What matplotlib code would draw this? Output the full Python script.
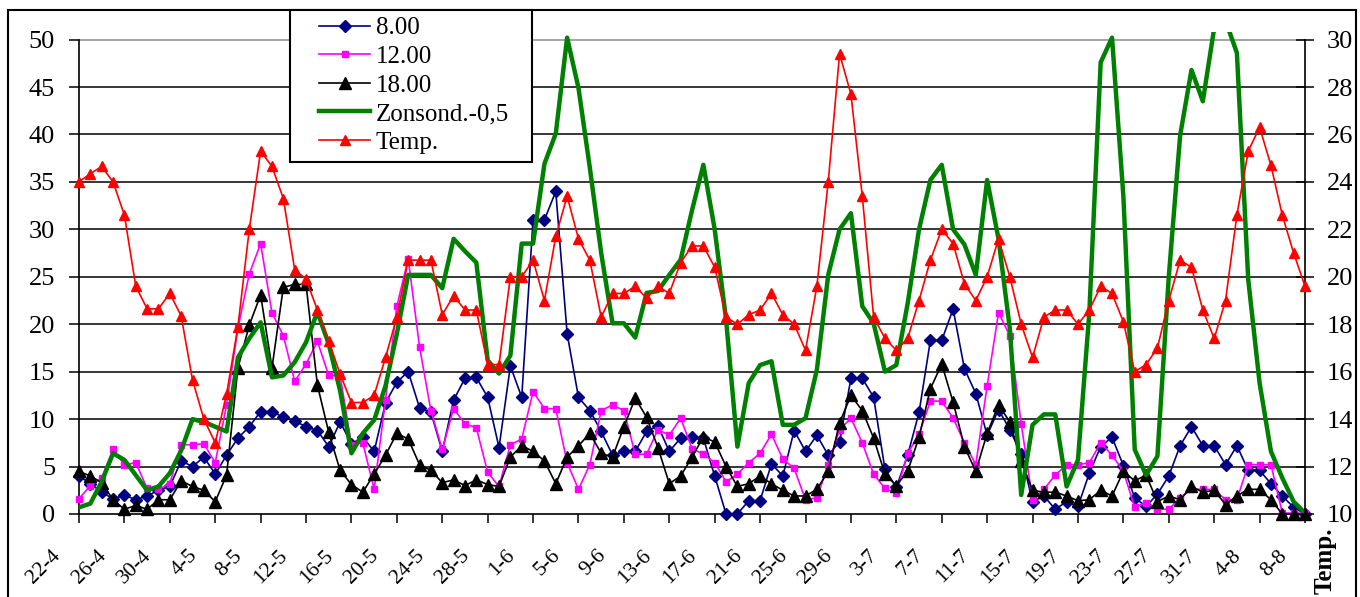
import numpy as np
import matplotlib
matplotlib.use('Agg')
import matplotlib.pyplot as plt
from matplotlib.patches import Rectangle
from matplotlib.transforms import ScaledTranslation

W, H, DPI = 1360, 597, 100

tick_labels = ['22-4', '26-4', '30-4', '4-5', '8-5', '12-5', '16-5', '20-5', '24-5',
               '28-5', '1-6', '5-6', '9-6', '13-6', '17-6', '21-6', '25-6', '29-6',
               '3-7', '7-7', '11-7', '15-7', '19-7', '23-7', '27-7', '31-7', '4-8', '8-8']

s800 = [4.0, 3.2, 2.3, 1.6, 2.0, 1.5, 1.9, 2.5, 2.9, 5.6,
        5.0, 6.0, 4.2, 6.2, 8.0, 9.2, 10.8, 10.8, 10.2, 9.8,
        9.2, 8.8, 7.1, 9.7, 7.4, 8.1, 6.6, 11.7, 13.9, 15.0,
        11.2, 10.7, 6.6, 12.0, 14.3, 14.4, 12.3, 7.0, 15.6, 12.3,
        31.0, 31.0, 34.0, 19.0, 12.3, 10.9, 8.7, 6.2, 6.6, 6.6,
        8.7, 9.3, 6.6, 8.0, 8.1, 8.0, 4.0, 0.0, 0.0, 1.4,
        1.4, 5.3, 4.0, 8.8, 6.6, 8.3, 6.2, 7.6, 14.3, 14.3,
        12.3, 4.7, 2.8, 6.2, 10.7, 18.3, 18.3, 21.6, 15.3, 12.7,
        8.3, 11.0, 8.9, 6.3, 1.3, 1.9, 0.5, 1.3, 0.8, 4.3,
        7.1, 8.1, 5.1, 1.7, 0.8, 2.1, 4.0, 7.2, 9.2, 7.2,
        7.2, 5.2, 7.2, 4.6, 4.6, 3.2, 1.9, 0.7, 0.0]

s1200 = [1.6, 3.0, 3.8, 6.8, 5.2, 5.4, 2.7, 2.6, 3.2, 7.3,
         7.3, 7.4, 5.4, 11.5, 19.6, 25.3, 28.5, 21.2, 18.8, 14.0,
         15.8, 18.2, 14.6, 14.6, 7.3, 7.5, 2.6, 12.0, 21.9, 26.9,
         17.6, 10.9, 6.8, 11.1, 9.5, 9.1, 4.4, 2.9, 7.3, 7.9,
         12.9, 11.1, 11.1, 5.4, 2.6, 5.2, 10.9, 11.5, 10.9, 6.3,
         6.3, 8.9, 8.3, 10.1, 6.9, 6.3, 5.4, 3.4, 4.2, 5.4,
         6.4, 8.4, 5.8, 4.8, 1.5, 1.7, 5.2, 8.9, 10.1, 7.5,
         4.2, 2.7, 2.2, 6.4, 8.4, 11.9, 11.9, 10.1, 7.5, 5.2,
         13.5, 21.2, 18.8, 9.5, 1.5, 2.6, 4.1, 5.2, 5.2, 5.4,
         7.5, 6.2, 4.5, 0.7, 1.2, 0.5, 0.5, 1.7, 2.6, 2.6,
         2.6, 1.5, 1.5, 5.2, 5.2, 5.2, 0.1, 0.1, 0.1]

s1800 = [4.5, 4.0, 3.3, 1.5, 0.5, 0.9, 0.5, 1.5, 1.5, 3.5,
         2.9, 2.5, 1.3, 4.1, 15.4, 19.9, 23.1, 15.4, 23.9, 24.2,
         24.2, 13.6, 8.6, 4.6, 3.1, 2.3, 4.2, 6.2, 8.5, 7.9,
         5.2, 4.6, 3.3, 3.6, 3.0, 3.6, 3.1, 2.9, 6.0, 7.2,
         6.6, 5.6, 3.2, 6.0, 7.2, 8.5, 6.4, 6.0, 9.2, 12.2,
         10.2, 7.0, 3.2, 4.0, 6.0, 8.1, 7.6, 5.0, 2.9, 3.2,
         4.0, 3.2, 2.5, 1.9, 1.9, 2.6, 4.5, 9.6, 12.5, 10.9,
         8.0, 4.2, 3.0, 4.5, 8.1, 13.2, 15.8, 11.8, 7.1, 4.5,
         8.5, 11.5, 9.7, 5.6, 2.5, 2.3, 2.3, 1.9, 1.4, 1.5,
         2.5, 1.9, 4.5, 3.5, 4.1, 1.3, 1.9, 1.5, 2.9, 2.3,
         2.5, 1.0, 1.9, 2.6, 2.6, 1.5, 0.0, 0.0, 0.0]

zonsond = [0.7, 1.1, 3.4, 6.4, 5.7, 4.1, 2.5, 2.9, 4.3, 6.7,
           10.0, 9.7, 9.2, 8.7, 16.5, 18.5, 20.2, 14.4, 14.6, 16.0,
           18.1, 21.3, 17.9, 13.0, 6.4, 8.5, 9.9, 13.5, 19.0, 25.2,
           25.2, 25.2, 23.8, 29.0, 27.7, 26.5, 16.2, 14.8, 16.7, 28.5,
           28.5, 36.9, 40.1, 50.2, 44.9, 36.5, 27.5, 20.1, 20.1, 18.6,
           23.3, 23.5, 25.2, 26.8, 32.0, 36.8, 30.0, 20.5, 7.1, 13.8,
           15.7, 16.1, 9.4, 9.4, 10.1, 15.2, 25.2, 30.0, 31.7, 21.9,
           20.1, 15.0, 15.7, 22.2, 30.0, 35.2, 36.8, 30.0, 28.4, 25.2,
           35.2, 29.0, 19.5, 2.0, 9.4, 10.5, 10.5, 2.9, 5.7, 21.2,
           47.6, 50.2, 33.5, 6.8, 4.1, 6.1, 25.0, 39.9, 46.8, 43.5,
           51.2, 52.0, 48.6, 24.7, 13.8, 6.6, 3.8, 1.3, 0.1]

temp = [24.0, 24.35, 24.65, 24.0, 22.6, 19.6, 18.65, 18.65, 19.3, 18.35,
        15.65, 14.0, 13.0, 15.05, 17.9, 22.0, 25.3, 24.65, 23.3, 20.3,
        19.9, 18.6, 17.3, 15.9, 14.7, 14.7, 15.0, 16.6, 18.3, 20.7,
        20.7, 20.7, 18.4, 19.2, 18.6, 18.6, 16.3, 16.3, 20.0, 20.0,
        20.7, 19.0, 21.7, 23.4, 21.6, 20.7, 18.3, 19.3, 19.3, 19.6,
        19.1, 19.6, 19.3, 20.6, 21.3, 21.3, 20.4, 18.3, 18.0, 18.4,
        18.6, 19.3, 18.4, 18.0, 16.9, 19.6, 24.0, 29.4, 27.7, 23.4,
        18.3, 17.4, 16.9, 17.4, 19.0, 20.7, 22.0, 21.4, 19.7, 19.0,
        20.0, 21.6, 20.0, 18.0, 16.6, 18.3, 18.6, 18.6, 18.0, 18.6,
        19.6, 19.3, 18.1, 16.0, 16.3, 17.0, 19.0, 20.7, 20.4, 18.6,
        17.4, 19.0, 22.6, 25.3, 26.3, 24.7, 22.6, 21.0, 19.6]

series_names = ['8.00', '12.00', '18.00', 'Zonsond.-0,5', 'Temp.']

plt.rcParams['font.family'] = ['Liberation Serif', 'DejaVu Serif']

fig = plt.figure(figsize=(W / DPI, H / DPI), dpi=DPI)
fig.patch.set_facecolor('white')


def fx(px):
    return px / W


def fy(py):
    return 1 - py / H


YTOP = 50.8
ax = fig.add_axes([fx(79), fy(514), fx(1305) - fx(79), fy(32) - fy(514)])
ax.patch.set_visible(False)
ax2 = ax.twinx()

x = np.arange(len(temp))
ax.set_xlim(0, len(temp) - 1)
ax.set_ylim(0, YTOP)
ax2.set_ylim(10, 10 + YTOP * 0.4)

# grid
ax.set_yticks(np.arange(0, 51, 5))
ax.yaxis.grid(True, color='black', lw=1.1)
ax.set_axisbelow(True)
gl = ax.get_ygridlines()
gl[-1].set_color('#8c8c8c')
gl[0].set_visible(False)

l1, = ax.plot(x, s800, color='#000080', lw=1.2, marker='D', ms=6.5, clip_on=False, zorder=3)
l2, = ax.plot(x, s1200, color='#FF00FF', lw=1.2, marker='s', ms=5, clip_on=False, zorder=3)
l3, = ax.plot(x, s1800, color='black', lw=1.2, marker='^', ms=9, clip_on=False, zorder=3)
l4, = ax.plot(x, zonsond, color='#008000', lw=3.2, zorder=3)
l5, = ax2.plot(x, temp, color='#FF0000', lw=1.2, marker='^', ms=6.5, clip_on=False, zorder=3)

# axes styling
for s in ['top', 'right']:
    ax.spines[s].set_visible(False)
for s in ['top', 'left', 'bottom']:
    ax2.spines[s].set_visible(False)
ax.spines['left'].set_bounds(0, 50)
ax.spines['left'].set_linewidth(1.2)
ax.spines['bottom'].set_linewidth(1.2)
ax2.spines['right'].set_bounds(10, 30)
ax2.spines['right'].set_linewidth(1.2)

ax.tick_params(axis='y', direction='out', length=7.2, width=1.1, pad=10, labelsize=19)
ax2.set_yticks(np.arange(10, 31, 2))
ax2.tick_params(axis='y', direction='inout', length=13, width=1.1, pad=9, labelsize=19)

ax.set_xticks(np.arange(0, len(temp), 4))
ax.set_xticklabels(tick_labels, rotation=45, ha='right', va='center',
                   rotation_mode='anchor', fontsize=15.5)
ax.tick_params(axis='x', direction='out', length=6.5, width=1.1, pad=0)
off = ScaledTranslation(-21 / DPI, -30 / DPI, fig.dpi_scale_trans)
for lab in ax.get_xticklabels():
    lab.set_transform(lab.get_transform() + off)

# legend (content) + its box
leg = fig.legend([l1, l2, l3, l4, l5], series_names, loc='upper left',
                 bbox_to_anchor=(fx(319), fy(17)), bbox_transform=fig.transFigure,
                 borderaxespad=0, fontsize=18, handlelength=2.04, handletextpad=0.24,
                 labelspacing=0.24, borderpad=0, frameon=False)
fig.add_artist(Rectangle((fx(290), fy(162)), fx(532) - fx(290), fy(10) - fy(162),
                         transform=fig.transFigure, fc='white', ec='black', lw=1.5,
                         zorder=4.5))

# outer chart border
fig.add_artist(Rectangle((fx(8), fy(605)), fx(1356) - fx(8), fy(10) - fy(605),
                         transform=fig.transFigure, fill=False, ec='black', lw=1.5))

fig.text(fx(1325), fy(528), 'Temp.', rotation=90, ha='center', va='top',
         fontsize=18, fontweight='bold')

fig.savefig('out.png', dpi=DPI)
